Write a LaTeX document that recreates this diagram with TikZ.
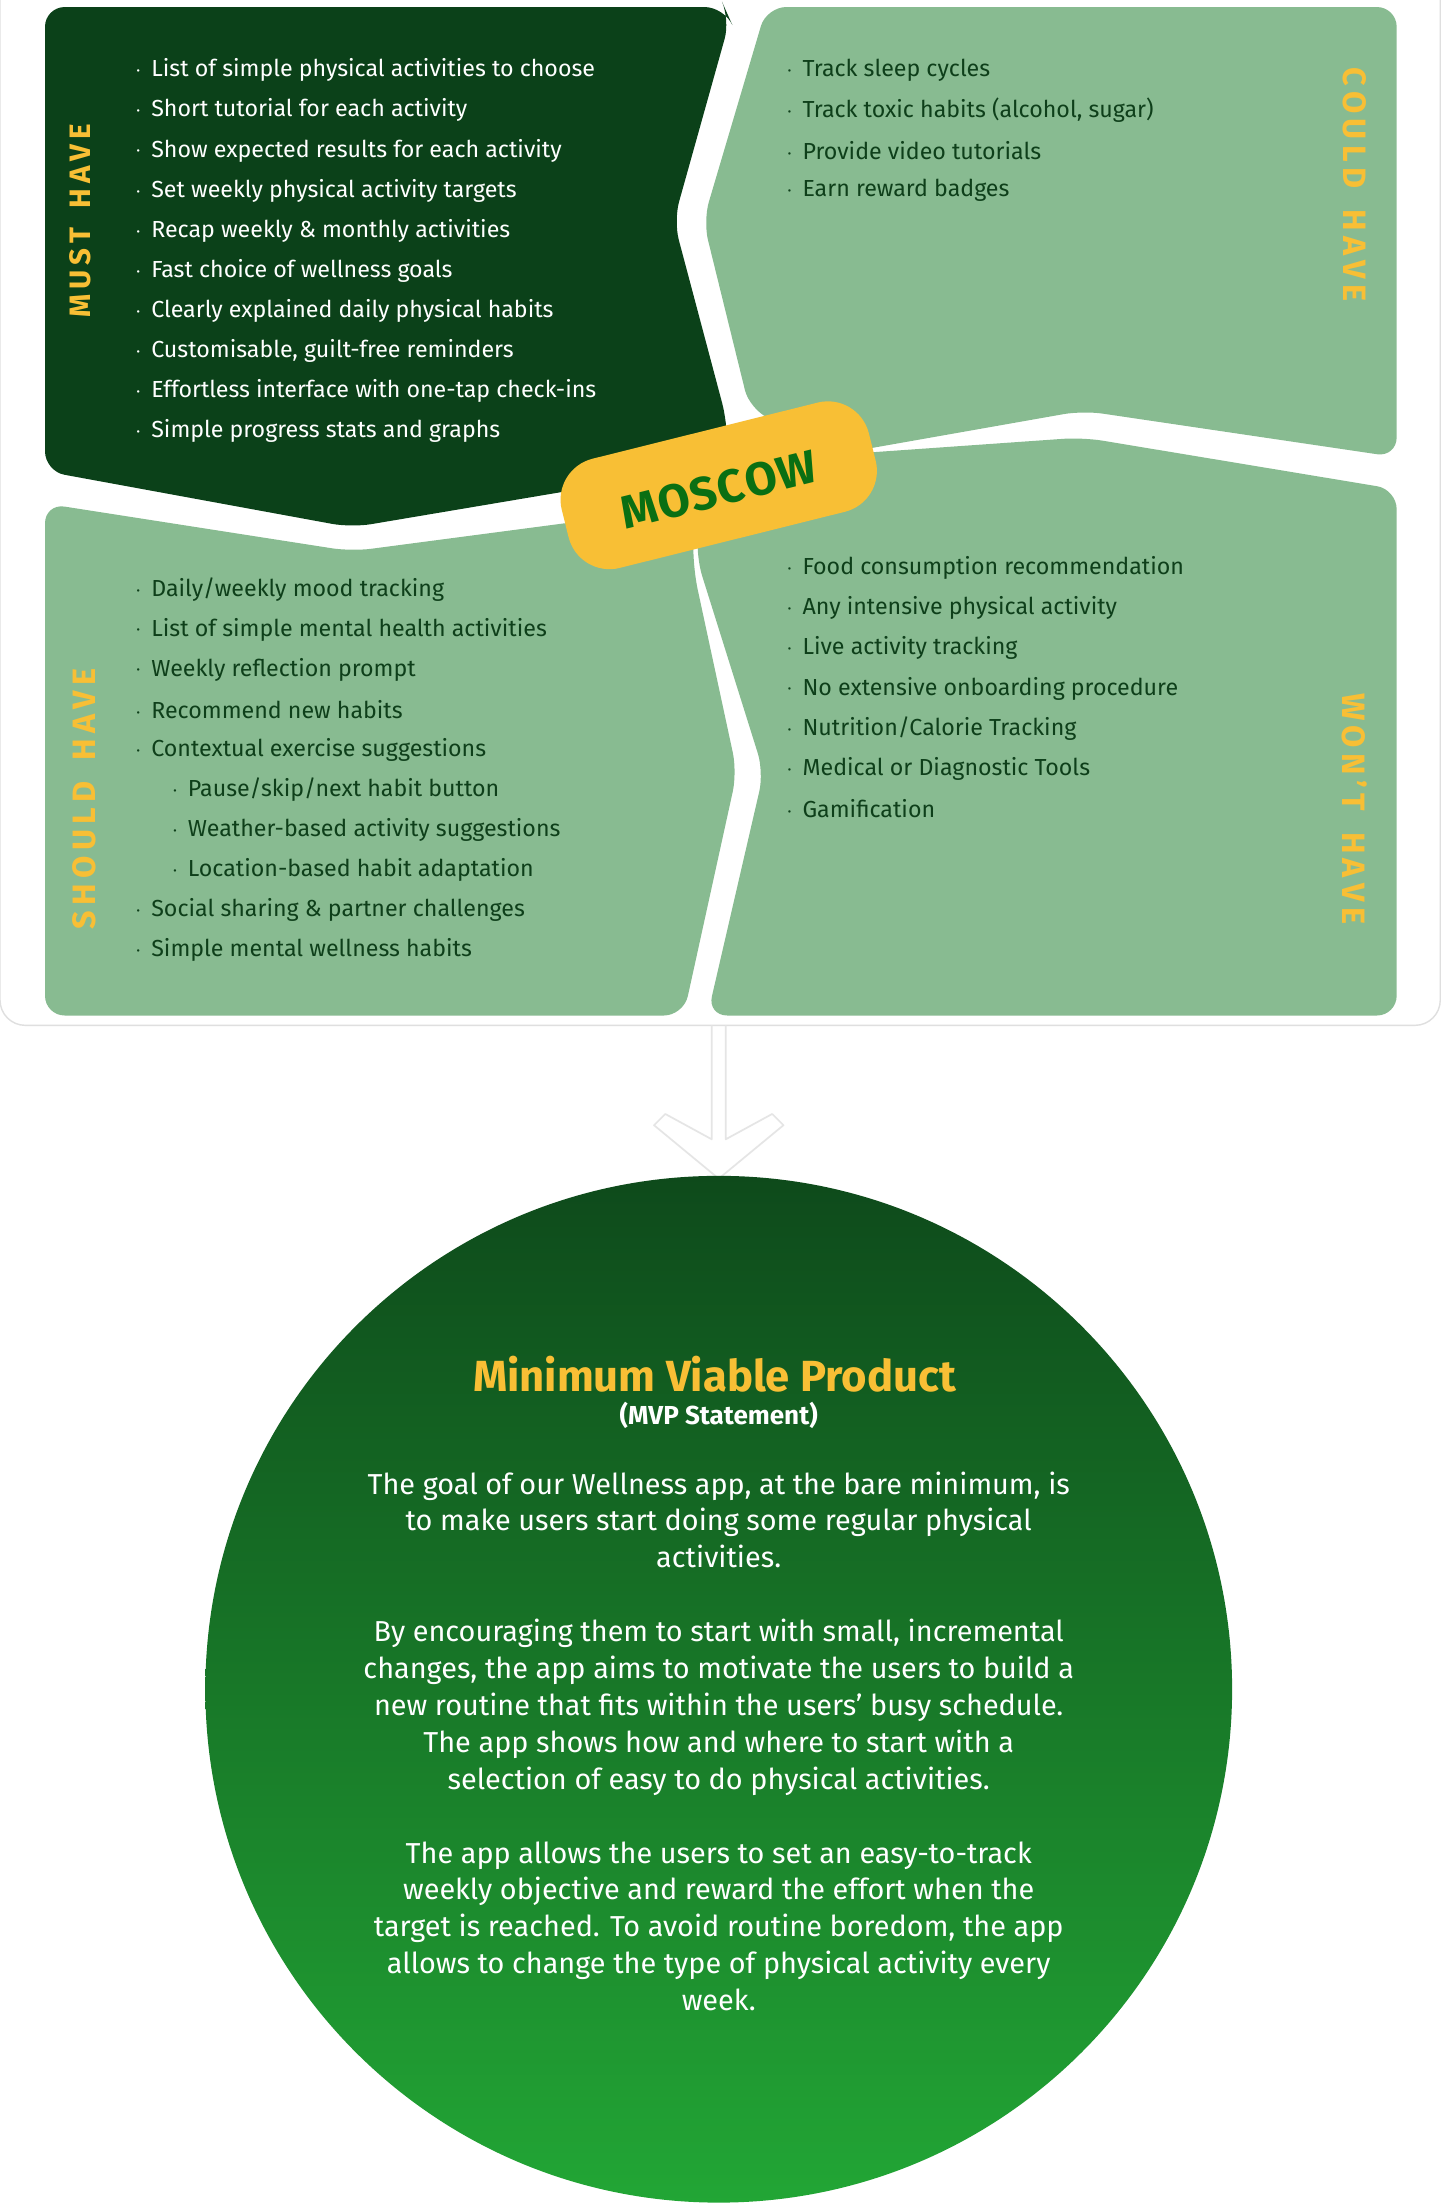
\documentclass[tikz,border=0pt]{standalone}
\usepackage{fontspec}
\setmainfont{Fira Sans}
\definecolor{dkg}{HTML}{0B4119}
\definecolor{ltg}{HTML}{88BB91}
\definecolor{yel}{HTML}{F8BF35}
\definecolor{txg}{HTML}{0E3F1A}
\definecolor{gtop}{HTML}{0E4A1B}
\definecolor{gbot}{HTML}{22A635}
\newcommand{\bul}{\raisebox{1.5pt}{\scalebox{0.45}{\textbullet}}\hspace{8pt}}
\begin{document}
\begin{tikzpicture}[x=1pt,y=-1pt,
  itm/.style={anchor=west,inner sep=0pt,font=\fontsize{16.5}{16.5}\selectfont},
  side/.style={font=\fontsize{23}{23}\selectfont\bfseries,text=yel,inner sep=0pt},
  para/.style={font=\fontsize{20.5}{26.2}\selectfont,text=white,align=center,inner sep=0pt}]
\useasboundingbox (0,0) rectangle (1024,1567);
\fill[white] (0,0) rectangle (1024,1567);
\draw[gray!25,line width=1pt,rounded corners=18] (0,-20) rectangle (1024,729);
% quadrants
\fill[dkg,rounded corners=14] (32,5) -- (515,5) -- (519,14) -- (479,157) -- (517,300) -- (517,330) -- (250,375) -- (32,335) -- cycle;
\fill[ltg,rounded corners=14] (545,5) -- (993,5) -- (993,325) -- (770,292) -- (600,322) -- (533,291) -- (500,157) -- cycle;
\fill[ltg,rounded corners=14] (32,358) -- (250,392) -- (493,360) -- (493,405) -- (524,549) -- (486,722) -- (32,722) -- cycle;
\fill[ltg,rounded corners=14] (500,330) -- (770,311) -- (993,348) -- (993,722) -- (503,722) -- (543,549) -- (495,396) -- cycle;
% badge
\node[fill=yel,rounded corners=30,minimum width=225,minimum height=80,rotate=14,inner sep=0pt] (badge) at (511,345) {};
\node[rotate=14,inner sep=0pt,font=\fontsize{33}{33}\selectfont\bfseries,text=txg!75!green] (mos) at (511,348) {M\kern1pt O\kern1pt S\kern1pt C\kern1pt O\kern1pt W};
% side labels
\node[side,font=\fontsize{21}{21}\selectfont\bfseries,rotate=90] (must) at (57,157) {M\,U\,S\,T\, \ H\,A\,V\,E};
\node[side,rotate=90] (should) at (60,568) {S\,H\,O\,U\,L\,D\, \ H\,A\,V\,E};
\node[side,rotate=-90] (could) at (963,131) {C\,O\,U\,L\,D\, \ H\,A\,V\,E};
\node[side,rotate=-90] (wont) at (963,575) {W\,O\,N\,'\,T\, \ H\,A\,V\,E};
% must items
\foreach \t [count=\i from 0] in {List of simple physical activities to choose,Short tutorial for each activity,Show expected results for each activity,Set weekly physical activity targets,Recap weekly \& monthly activities,Fast choice of wellness goals,Clearly explained daily physical habits,{Customisable, guilt-free reminders},Effortless interface with one-tap check-ins,Simple progress stats and graphs}{
  \node[itm,text=white] (m\i) at (97,{50+28.5*\i}) {\bul\t};}
\foreach \t [count=\i from 0] in {Track sleep cycles,{Track toxic habits (alcohol, sugar)},Provide video tutorials,Earn reward badges}{
  \node[itm,text=txg] (c\i) at (560,{50+28.5*\i}) {\bul\t};}
\foreach \t/\x [count=\i from 0] in {{Daily/weekly mood tracking}/97,List of simple mental health activities/97,Weekly reflection prompt/97,Recommend new habits/97,Contextual exercise suggestions/97,{Pause/skip/next habit button}/123,Weather-based activity suggestions/123,Location-based habit adaptation/123,Social sharing \& partner challenges/97,Simple mental wellness habits/97}{
  \node[itm,text=txg] (s\i) at (\x,{419+28.5*\i}) {\bul\t};}
\foreach \t [count=\i from 0] in {Food consumption recommendation,Any intensive physical activity,Live activity tracking,No extensive onboarding procedure,{Nutrition/Calorie Tracking},Medical or Diagnostic Tools,Gamification}{
  \node[itm,text=txg] (w\i) at (560,{404+28.5*\i}) {\bul\t};}
% arrow
\draw[gray!20,line width=1.2pt,line join=round] (506,729) -- (506,810) -- (473,792) -- (465,800) -- (511,838) -- (557,800) -- (549,792) -- (516,810) -- (516,729);
% circle
\shade[top color=gtop,bottom color=gbot] (511,1201) circle (365);
\node[inner sep=0pt,font=\fontsize{31}{31}\selectfont\bfseries,text=yel] (title) at (508,977) {Minimum Viable Product};
\node[inner sep=0pt,font=\fontsize{18.5}{18.5}\selectfont\bfseries,text=white] (sub) at (511,1006) {(MVP Statement)};
\node[para,anchor=north] (p1) at (511,1046) {The goal of our Wellness app, at the bare minimum, is\\to make users start doing some regular physical\\activities.};
\node[para,anchor=north] (p2) at (511,1151) {By encouraging them to start with small, incremental\\changes, the app aims to motivate the users to build a\\new routine that fits within the users’ busy schedule.\\The app shows how and where to start with a\\selection of easy to do physical activities.};
\node[para,anchor=north] (p3) at (511,1309) {The app allows the users to set an easy-to-track\\weekly objective and reward the effort when the\\target is reached. To avoid routine boredom, the app\\allows to change the type of physical activity every\\week.};
\end{tikzpicture}
\end{document}
